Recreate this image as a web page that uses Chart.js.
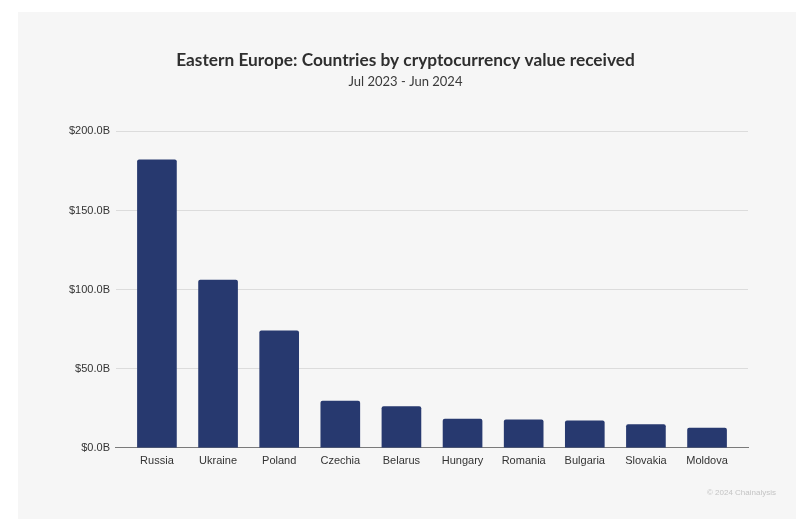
<!DOCTYPE html>
<html>
<head>
<meta charset="utf-8">
<script src="https://cdn.jsdelivr.net/npm/chart.js@4.4.1/dist/chart.umd.min.js"></script>
<style>
html,body{margin:0;padding:0;background:#fff;}
#panel{position:absolute;left:18px;top:12px;width:778px;height:507px;background:#f6f6f6;}
#wrap{position:absolute;left:0;top:0;width:802px;height:529px;}
</style>
</head>
<body>
<div id="panel"></div>
<div id="wrap"><canvas id="c" width="802" height="529"></canvas></div>
<script>
const categories = ["Russia","Ukraine","Poland","Czechia","Belarus","Hungary","Romania","Bulgaria","Slovakia","Moldova"];
const valuesB = [182, 106, 74, 29.5, 26, 18.2, 17.7, 17.1, 14.7, 12.4];
const yTicks = [0, 50, 100, 150, 200];
const titleText = "Eastern Europe: Countries by cryptocurrency value received";
const subtitleText = "Jul 2023 - Jun 2024";
const creditText = "© 2024 Chainalysis";

const points = valuesB.map((v, i) => ({x: i, y: v}));

const credit = {
  id: 'credit',
  afterDraw(chart) {
    const ctx = chart.ctx;
    ctx.save();
    ctx.font = '8px "Liberation Sans", Arial, sans-serif';
    ctx.fillStyle = '#c4c4c4';
    ctx.textAlign = 'right';
    ctx.textBaseline = 'middle';
    ctx.fillText(creditText, 776, 493);
    ctx.restore();
  }
};

new Chart(document.getElementById('c'), {
  type: 'bar',
  data: {
    datasets: [{
      data: points,
      backgroundColor: '#27396f',
      borderRadius: 2,
      borderSkipped: 'bottom',
      barThickness: 39
    }]
  },
  options: {
    responsive: false,
    animation: false,
    layout: {padding: {left: 63, right: 54, top: 0, bottom: 54}},
    plugins: {
      legend: {display: false},
      tooltip: {enabled: false},
      title: {
        display: true,
        text: titleText,
        color: '#2f2f2f',
        font: {family: 'Lato', size: 17.3, weight: 'bold'},
        padding: {top: 50, bottom: 2}
      },
      subtitle: {
        display: true,
        text: subtitleText,
        color: '#3a3a3a',
        font: {family: 'Lato', size: 13, weight: 'normal'},
        padding: {top: 1, bottom: 42}
      }
    },
    scales: {
      x: {
        type: 'linear',
        offset: false,
        min: -0.67,
        max: 9.67,
        afterBuildTicks(axis) {
          axis.ticks = categories.map((c, i) => ({value: i}));
        },
        grid: {display: false, drawTicks: false, offset: false},
        border: {display: true, color: '#7a7a7a', width: 1},
        ticks: {
          autoSkip: false,
          maxRotation: 0,
          padding: 7,
          color: '#333',
          font: {family: '"Liberation Sans", Arial, sans-serif', size: 11},
          callback: (v) => categories[v] !== undefined ? categories[v] : ''
        }
      },
      y: {
        min: 0,
        max: 200,
        afterBuildTicks(axis) {
          axis.ticks = yTicks.map(v => ({value: v}));
        },
        grid: {
          color: (ctx) => ctx.tick && ctx.tick.value === 0 ? '#7a7a7a' : '#dcdcdc',
          lineWidth: 1,
          drawTicks: false
        },
        border: {display: false},
        ticks: {
          padding: 6,
          color: '#333',
          font: {family: '"Liberation Sans", Arial, sans-serif', size: 11},
          callback: (v) => '$' + v.toFixed(1) + 'B'
        }
      }
    }
  },
  plugins: [credit]
});
</script>
</body>
</html>
